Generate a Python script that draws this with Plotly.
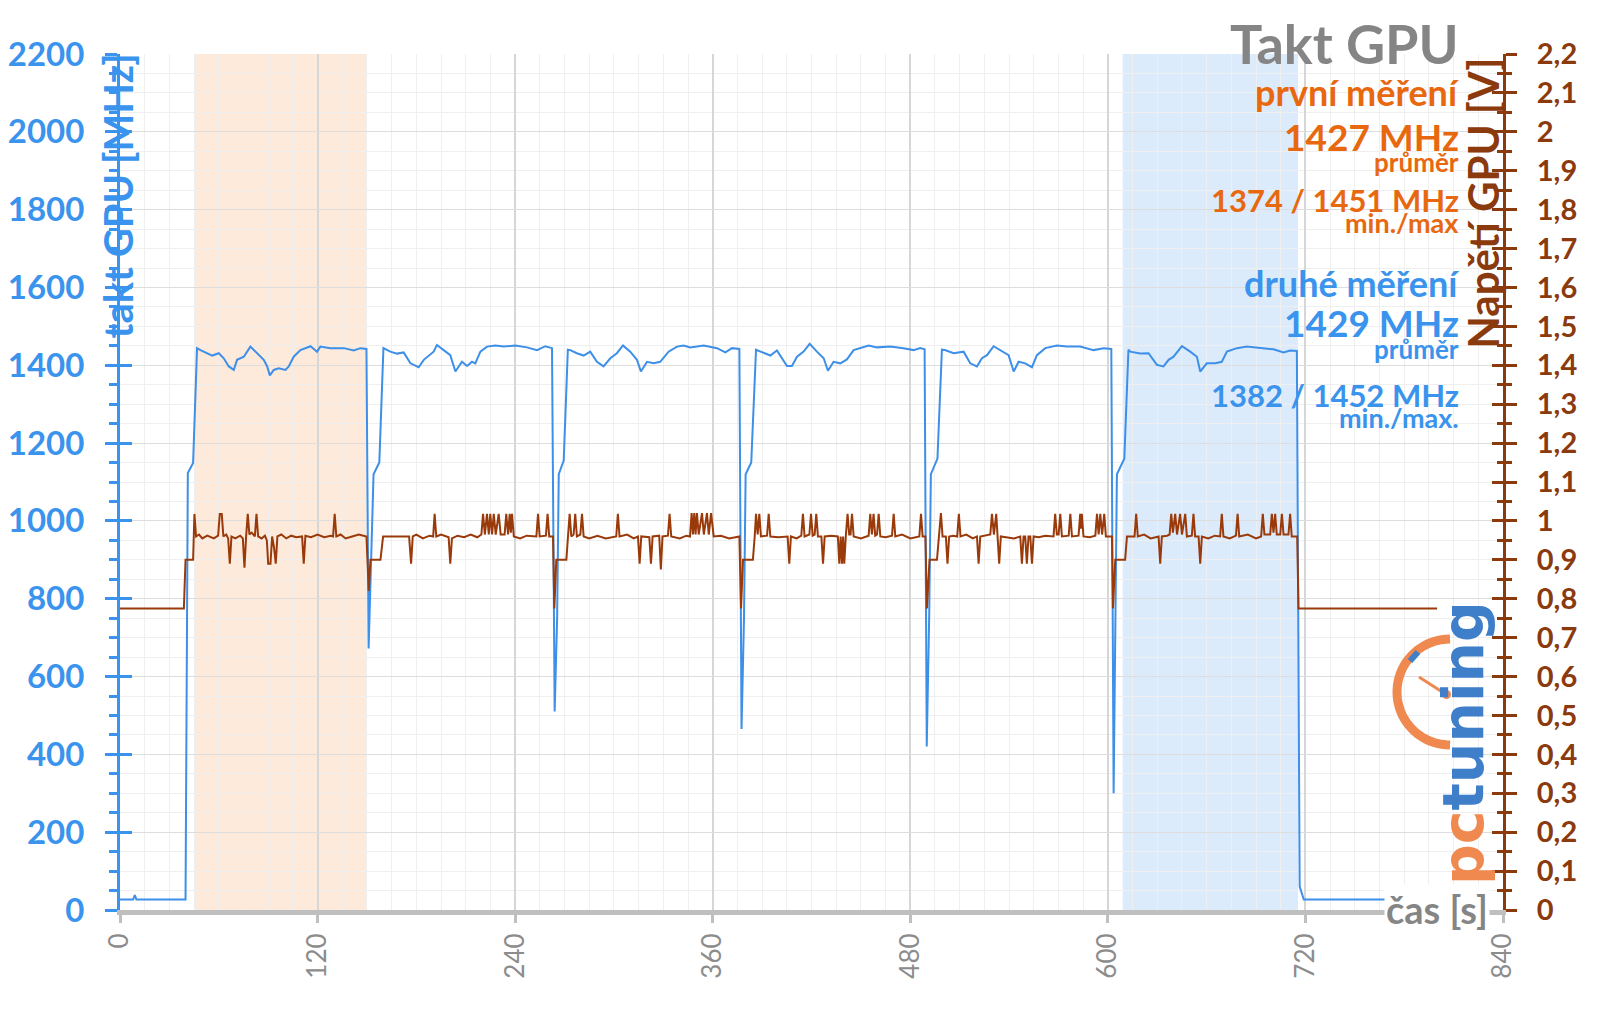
import numpy as np
import plotly.graph_objects as go

# ---------------- data ----------------
clk_t = [0, 8, 9, 10, 39.8, 41.2, 44.4, 46.8, 48.9, 50.9, 52.9, 56, 60, 63, 66.1, 69.1, 71.1, 75.2, 79.2,
         83.3, 87.3, 89.4, 91, 93.4, 96.4, 100.5, 102.5, 105.5, 109.6, 115.7, 119.7, 121.7, 127.8, 136, 142,
         146, 149.7, 151, 152.5, 154, 157.5, 160, 164.2, 168.3, 172.3, 176.4, 181.4, 184.5, 190.5, 192.5,
         196.6, 200.6, 203.7, 207.7, 210.8, 213.8, 215.8, 218.9, 222.9, 228, 233, 240.1, 247.2, 253.3, 258.3,
         262.4, 264, 265.5, 266.5, 269.5, 272, 273.5, 277.5, 281.6, 285.6, 289.7, 293.7, 297.8, 301.8, 305.5,
         309.9, 314, 316.4, 320.1, 324.1, 328.1, 333.2, 338.3, 342.3, 346.4, 350.4, 354.5, 362.6, 367.7,
         371.7, 376.2, 377.5, 379, 380, 383.4, 386.3, 390.9, 395, 399, 402.1, 405.1, 408.1, 411.2, 415.2,
         418.9, 423.3, 427.4, 430, 433.4, 437.5, 441.5, 445.6, 449.6, 454.7, 459.7, 467.8, 475.9, 482, 486,
         488.7, 490, 491.5, 492.5, 496.5, 499.2, 501, 506.3, 512.4, 516.4, 520.5, 523.5, 526.6, 530.6, 535.7,
         539.7, 542.8, 545.8, 549.8, 553.9, 556.9, 562, 569.1, 575.1, 583.2, 591.3, 597.4, 602.1, 603.5,
         604.8, 605.5, 610, 612.5, 613.6, 619.7, 624.7, 629.8, 633.8, 636.9, 639.9, 645, 650, 654.1, 656.1,
         660.1, 665.2, 669.2, 672.3, 678.4, 684.4, 692.5, 700.6, 706.7, 710.7, 714.8, 716.5, 719, 800]
clk_mhz = [27, 27, 38, 27, 27, 1123, 1149, 1444, 1439, 1435, 1430, 1425, 1431, 1418, 1397, 1388, 1414, 1422, 1448,
           1431, 1414, 1397, 1374, 1388, 1392, 1388, 1397, 1422, 1439, 1449, 1435, 1448, 1444, 1444, 1438,
           1444, 1442, 672, 900, 1120, 1150, 1444, 1435, 1430, 1433, 1405, 1395, 1414, 1435, 1452,
           1439, 1426, 1384, 1409, 1398, 1409, 1405, 1435, 1448, 1451, 1448, 1451, 1446, 1439, 1449,
           1444, 510, 750, 1120, 1155, 1440, 1439, 1431, 1425, 1435, 1409, 1397, 1418, 1431, 1451,
           1435, 1414, 1384, 1409, 1405, 1409, 1435, 1448, 1451, 1446, 1448, 1451, 1444, 1433,
           1444, 1442, 465, 750, 1120, 1150, 1440, 1431, 1425, 1438, 1418, 1398, 1398, 1422, 1435,
           1455, 1435, 1418, 1386, 1409, 1405, 1415, 1439, 1444, 1451, 1446, 1448, 1444, 1439, 1444,
           1441, 420, 760, 1120, 1160, 1440, 1439, 1431, 1435, 1405, 1397, 1418, 1426, 1449, 1435,
           1426, 1384, 1409, 1405, 1395, 1426, 1444, 1451, 1448, 1448, 1439, 1444, 1442, 300,
           740, 1120, 1160, 1440, 1435, 1430, 1431, 1401, 1397, 1414, 1422, 1449, 1435, 1422, 1384,
           1405, 1405, 1409, 1435, 1444, 1448, 1444, 1441, 1433, 1438, 1437, 60, 27, 27]

volt_t = [0, 38.8, 39.8, 44.4, 45.2, 46.2, 48, 50, 53, 57, 59.6, 60.6, 61.8, 62.8, 64.5, 65.7, 66.7, 67.7, 70, 73,
          74.6, 75.6, 76.6, 77.6, 78.6, 80, 81.9, 82.9, 83.9, 86, 88, 89.2, 90, 91.4, 92.4, 93.6, 94.6, 95.6,
          98, 101, 104, 107, 110.6, 111.6, 112.6, 116, 120, 124, 128, 129.4, 130.4, 131.4, 134, 137, 141,
          145, 149.7, 151.1, 152.1, 158.2, 159.8, 165, 175.6, 176.8, 177.8, 180, 184, 188, 190.2, 191.1,
          192.1, 195, 199.6, 200.6, 201.6, 205, 209, 213, 217, 219.5, 220.5, 221.6, 222.9, 224, 224.9, 226,
          227, 228.2, 230, 231.2, 233.6, 234.6, 235.7, 236.7, 237.4, 238.1, 239.2, 243, 247, 252.9, 253.9,
          254.9, 258.7, 259.7, 260.7, 263, 263.8, 265, 271.1, 272.1, 273.1, 274.1, 275.5, 276.5, 277.5,
          279.6, 280.6, 281.6, 285, 290, 295, 301.4, 302.4, 303.4, 308, 312, 314.6, 315.6, 316.6, 321.5,
          322.5, 323.5, 327.5, 328.5, 329.5, 332.8, 333.8, 334.8, 340, 344, 346.2, 347.2, 348, 348.8, 349.6,
          350.4, 351.5, 353.5, 354.6, 356.5, 357.6, 359, 360.6, 365, 370, 376.2, 377.2, 378.4, 384.4, 385.5,
          386.3, 387.3, 388.3, 389.3, 393, 394, 395, 400, 405.5, 406.5, 407.5, 411, 413.8, 414.8, 415.8,
          418.7, 419.7, 420.7, 421.9, 422.9, 423.9, 426, 427, 428, 432, 436, 436.9, 437.7, 438.5, 439.2,
          439.9, 440.9, 441.9, 442.9, 443.7, 444.6, 445.6, 450, 454.7, 455.7, 456.7, 457.7, 458.7, 459.8,
          460.8, 461.8, 465, 468.9, 469.9, 470.9, 475, 480, 485.5, 486.5, 487.5, 489.2, 490.1, 491.7, 496.2,
          497.4, 498.6, 499.6, 501.6, 502.6, 503.6, 506, 508.5, 509.5, 510.5, 514, 518, 520.5, 521.5, 522.5,
          526, 528.6, 529.6, 530.8, 532.2, 533.1, 534, 535, 539, 543, 546.8, 547.8, 548.8, 549.8, 550.8,
          551.8, 552.9, 553.9, 554.9, 558, 562, 567, 568, 569, 570.1, 571.1, 572.1, 576.2, 577.2, 578.2,
          582.2, 583.2, 583.7, 584.2, 585.2, 589, 592.4, 593.4, 594.4, 595.4, 596.5, 597.8, 598.8, 602.5,
          603.1, 604.5, 610.5, 611.6, 616.2, 617.2, 618.2, 622, 626, 630.8, 631.8, 632.8, 636, 637.5, 638.5,
          639.5, 640.9, 642, 643.9, 645, 647, 648, 651, 652, 653, 655.1, 656.1, 657.1, 661, 665, 668.2,
          669.2, 670.2, 674, 677.8, 678.8, 679.8, 685, 690, 693.1, 694.1, 695.1, 698.6, 699.6, 700.6, 701.6,
          702.6, 704.7, 705.7, 706.7, 709.7, 710.7, 711.7, 715, 715.8, 800]
volt_v = [0.775, 0.775, 0.90, 0.90, 1.018, 0.96, 0.965, 0.955, 0.962, 0.955, 0.962, 1.018, 1.018, 0.96, 0.965,
          0.955, 0.89, 0.96, 0.955, 0.962,
          0.955, 0.88, 0.96, 1.018, 0.965, 0.97, 0.96, 1.018, 0.96, 0.955, 0.962, 0.95, 0.89, 0.89, 0.96,
          0.93, 0.89, 0.96,
          0.965, 0.955, 0.962, 0.958, 0.96, 0.89, 0.962, 0.958, 0.965, 0.958, 0.962, 0.96, 1.018, 0.96,
          0.965, 0.955, 0.96,
          0.965, 0.96, 0.82, 0.90, 0.90, 0.96, 0.96, 0.96, 0.89, 0.96, 0.965, 0.955, 0.962, 0.96, 1.018,
          0.96, 0.965, 0.958, 0.89, 0.955, 0.962, 0.958, 0.965, 0.958, 0.965, 1.018, 0.965, 1.018, 0.965,
          1.018, 0.965,
          1.018, 0.965, 1.018, 0.965, 0.965, 1.018, 0.965, 1.018, 0.97, 1.018, 0.96, 0.955, 0.962, 0.96,
          1.018,
          0.96, 0.962, 1.018, 0.96, 0.96, 0.775, 0.90, 0.90, 0.96, 1.018, 0.96, 0.965, 1.018, 0.96,
          0.965, 1.018, 0.96, 0.955, 0.962, 0.955, 0.96, 1.018, 0.96, 0.965, 0.955, 0.96, 0.89, 0.96, 0.958,
          0.89, 0.96, 0.962, 0.875, 0.96, 0.962, 1.018, 0.96, 0.955, 0.962, 0.96, 1.02, 0.965, 1.02, 0.965,
          1.02, 0.965, 1.02, 0.965, 1.02, 0.965, 1.02, 0.96, 0.962, 0.955, 0.96, 0.775, 0.90, 0.90, 0.96,
          1.018, 0.965, 1.018, 0.96, 0.962, 1.018, 0.96, 0.958, 0.96, 0.89, 0.96, 0.955, 0.962, 1.018, 0.96,
          0.965, 1.018, 0.962, 0.965, 1.018, 0.96, 0.96, 0.89, 0.96, 0.962, 0.96, 0.89, 0.96, 0.89, 0.96,
          0.89, 0.965, 1.018, 0.965, 0.965, 1.018, 0.96, 0.955, 0.962, 1.018, 0.965, 1.018, 0.962, 0.965,
          1.018, 0.96, 0.958, 0.962, 1.018, 0.96, 0.965, 0.955, 0.96, 1.018, 0.96, 0.96, 0.775, 0.90, 0.90,
          0.96, 1.02, 0.96, 0.96, 0.89, 0.96, 0.962, 0.96, 1.018, 0.96, 0.965, 0.955, 0.96, 0.89, 0.96,
          0.962, 0.965, 1.018, 0.965, 1.018, 0.96, 0.89, 0.96, 0.958, 0.955, 0.96, 0.89, 0.96, 0.96, 0.89,
          0.96, 0.96, 0.89, 0.96, 0.958, 0.962, 0.96, 1.018, 0.965, 0.965, 1.018, 0.96, 0.962, 1.018, 0.96,
          0.962, 1.018, 0.98, 1.018, 0.96, 0.958, 0.962, 1.018, 0.965, 1.018, 0.965, 1.018, 0.96, 0.96,
          0.775, 0.90, 0.90, 0.96, 0.96, 1.018, 0.96, 0.965, 0.955, 0.96, 0.89, 0.96, 0.962, 0.965, 1.018,
          0.97, 1.018, 0.965, 1.018, 0.965, 1.018, 0.96, 0.962, 1.018, 0.96, 0.96, 0.89, 0.96, 0.955, 0.962,
          0.96,
          1.018, 0.96, 0.955, 0.962, 1.018, 0.96, 0.965, 0.955, 0.96, 1.018, 0.965, 0.965, 1.018, 0.97,
          1.018,
          0.965, 0.965, 1.018, 0.965, 0.965, 1.018, 0.96, 0.96, 0.775, 0.775]

first_window = [45, 150]
second_window = [609, 715.5]

x_ticks = [0, 120, 240, 360, 480, 600, 720, 840]
volt_ticks = [0, 0.1, 0.2, 0.3, 0.4, 0.5, 0.6, 0.7, 0.8, 0.9, 1.0, 1.1, 1.2, 1.3, 1.4, 1.5, 1.6, 1.7,
              1.8, 1.9, 2.0, 2.1, 2.2]
volt_labels = ["0", "0,1", "0,2", "0,3", "0,4", "0,5", "0,6", "0,7", "0,8", "0,9", "1", "1,1", "1,2",
               "1,3", "1,4", "1,5", "1,6", "1,7", "1,8", "1,9", "2", "2,1", "2,2"]

stat_lines = [
    ("Takt GPU", "gray", 54, 44),
    ("první měření", "orange", 36, 92),
    ("1427 MHz", "orange", 37, 136),
    ("průměr", "orange", 26, 162),
    ("1374 / 1451 MHz", "orange", 31, 200),
    ("min./max", "orange", 27, 222),
    ("druhé měření", "blue", 36, 283),
    ("1429 MHz", "blue", 37, 322),
    ("průměr", "blue", 26, 349),
    ("1382 / 1452 MHz", "blue", 31, 395),
    ("min./max.", "blue", 27, 417),
]

# ---------------- style ----------------
BLUE_TXT = "#3A93EC"
BLUE_LINE = "#3D8FE8"
ORANGE = "#E8680F"
BROWN = "#8B3A0E"
BROWN_LINE = "#9A3A0A"
GRAY = "#858585"
FONT = "Lato, 'Open Sans', sans-serif"
COLORS = {"gray": GRAY, "orange": ORANGE, "blue": BLUE_TXT}

W_FIG, H_FIG = 1600, 1009
L, T, W, H = 120, 54, 1383, 856


def px(x):
    return (x - L) / W


def py(y):
    return (T + H - y) / H


fig = go.Figure()
fig.add_trace(go.Scatter(x=clk_t, y=clk_mhz, mode="lines", line=dict(color=BLUE_LINE, width=2),
                         yaxis="y", showlegend=False, hoverinfo="skip"))
fig.add_trace(go.Scatter(x=volt_t, y=volt_v, mode="lines", line=dict(color=BROWN_LINE, width=2),
                         yaxis="y2", showlegend=False, hoverinfo="skip"))
fig.add_trace(go.Scatter(x=[None], y=[None], yaxis="y3", showlegend=False, hoverinfo="skip"))
fig.add_trace(go.Scatter(x=[None], y=[None], yaxis="y4", showlegend=False, hoverinfo="skip"))

shapes = [
    dict(type="rect", xref="x", yref="paper", x0=first_window[0], x1=first_window[1], y0=0, y1=1,
         fillcolor="#FDEADB", line=dict(width=0), layer="below"),
    dict(type="rect", xref="x", yref="paper", x0=second_window[0], x1=second_window[1], y0=0, y1=1,
         fillcolor="#DCEBFC", line=dict(width=0), layer="below"),
]

# pctuning logo gauge (decoration)
cx, cy, r = 1450, 692, 53
th = np.linspace(0, np.pi, 40)
arc = " ".join(("M" if i == 0 else "L") + f"{px(cx - r*np.sin(a)):.5f},{py(cy - r*np.cos(a)):.5f}"
               for i, a in enumerate(th))
shapes.append(dict(type="path", xref="paper", yref="paper", path=arc,
                   line=dict(color="#F0894F", width=9), layer="above"))
shapes.append(dict(type="line", xref="paper", yref="paper", x0=px(1447), y0=py(695), x1=px(1419), y1=py(677),
                   line=dict(color="#F0894F", width=3)))
shapes.append(dict(type="circle", xref="paper", yref="paper", x0=px(1442), x1=px(1451), y0=py(690), y1=py(699),
                   fillcolor="#F0894F", line=dict(width=0)))
shapes.append(dict(type="line", xref="paper", yref="paper", x0=px(1410), y0=py(661), x1=px(1418), y1=py(652),
                   line=dict(color="#3F7FC9", width=6)))

annotations = []
for text, col, size, yc in stat_lines:
    annotations.append(dict(text=f"<b>{text}</b>", xref="paper", yref="paper", x=px(1461), y=py(yc),
                            xanchor="right", yanchor="middle", showarrow=False,
                            font=dict(family=FONT, size=size, color=COLORS[col])))

annotations.append(dict(text="<b>takt GPU [MHz]</b>", xref="paper", yref="paper", x=px(117), y=py(52),
                        xanchor="center", yanchor="top", textangle=-90, showarrow=False,
                        font=dict(family=FONT, size=40, color=BLUE_TXT)))
annotations.append(dict(text="<b>Napětí GPU [V]</b>", xref="paper", yref="paper", x=px(1482), y=py(56),
                        xanchor="center", yanchor="top", textangle=-90, showarrow=False,
                        font=dict(family=FONT, size=42, color=BROWN)))
annotations.append(dict(text="<b>čas [s]</b>", xref="paper", yref="paper", x=px(1437), y=py(909),
                        xanchor="center", yanchor="middle", showarrow=False, bgcolor="white",
                        font=dict(family=FONT, size=38, color=GRAY)))
annotations.append(dict(text="<span style='color:#F0894F'>pc</span><span style='color:#3F7FC9'>tuning</span>",
                        xref="paper", yref="paper", x=px(1463), y=py(743),
                        xanchor="center", yanchor="middle", textangle=-90, showarrow=False,
                        font=dict(family="DejaVu Sans", size=57, weight="bold")))

fig.update_layout(
    width=W_FIG, height=H_FIG,
    margin=dict(l=L, r=W_FIG - L - W, t=T, b=H_FIG - T - H, autoexpand=False),
    paper_bgcolor="white", plot_bgcolor="white",
    font=dict(family=FONT),
    shapes=shapes, annotations=annotations,
    xaxis=dict(range=[0, 840], tickvals=x_ticks, tickangle=-90, automargin=False,
               tickfont=dict(family=FONT, size=26, color="#8C8C8C"),
               ticks="outside", ticklen=8, tickwidth=3, tickcolor="#BFBFBF",
               showline=True, linecolor="#BFBFBF", linewidth=5,
               showgrid=True, gridcolor="#D6D6D6", gridwidth=1.5, zeroline=False,
               minor=dict(dtick=15, tick0=0, showgrid=True, gridcolor="#EFEFEF", gridwidth=1)),
    yaxis=dict(range=[0, 2200], dtick=200, tick0=0, automargin=False,
               tickfont=dict(family=FONT, size=33, color=BLUE_TXT, weight="bold"),
               ticks="outside", ticklen=12, tickwidth=3, tickcolor=BLUE_TXT, ticklabelstandoff=14,
               showline=True, linecolor=BLUE_TXT, linewidth=3,
               showgrid=True, gridcolor="#DDDDDD", gridwidth=1.2, zeroline=False,
               minor=dict(dtick=50, tick0=0, ticks="outside", ticklen=8, tickwidth=3, tickcolor=BLUE_TXT,
                          showgrid=True, gridcolor="#EFEFEF", gridwidth=1)),
    yaxis3=dict(range=[0, 2200], dtick=200, tick0=0, overlaying="y", side="left", anchor="x",
                automargin=False,
                showticklabels=False, showgrid=False, zeroline=False, showline=False,
                ticks="inside", ticklen=12, tickwidth=3, tickcolor=BLUE_TXT),
    yaxis2=dict(range=[0, 2.2], tickvals=volt_ticks, ticktext=volt_labels, overlaying="y", side="right",
                anchor="x", automargin=False,
                tickfont=dict(family=FONT, size=29, color=BROWN, weight="bold"),
                ticks="outside", ticklen=11, tickwidth=3, tickcolor=BROWN, ticklabelstandoff=14,
                showline=True, linecolor=BROWN, linewidth=3, showgrid=False, zeroline=False,
                minor=dict(dtick=0.05, tick0=0, ticks="outside", ticklen=6, tickwidth=3, tickcolor=BROWN,
                           showgrid=False)),
    yaxis4=dict(range=[0, 2.2], tickvals=volt_ticks, overlaying="y", side="right", anchor="x",
                automargin=False,
                showticklabels=False, showgrid=False, zeroline=False, showline=False,
                ticks="inside", ticklen=11, tickwidth=3, tickcolor=BROWN,
                minor=dict(dtick=0.05, tick0=0, ticks="inside", ticklen=6, tickwidth=3, tickcolor=BROWN)),
)

fig.write_html("out.html")
